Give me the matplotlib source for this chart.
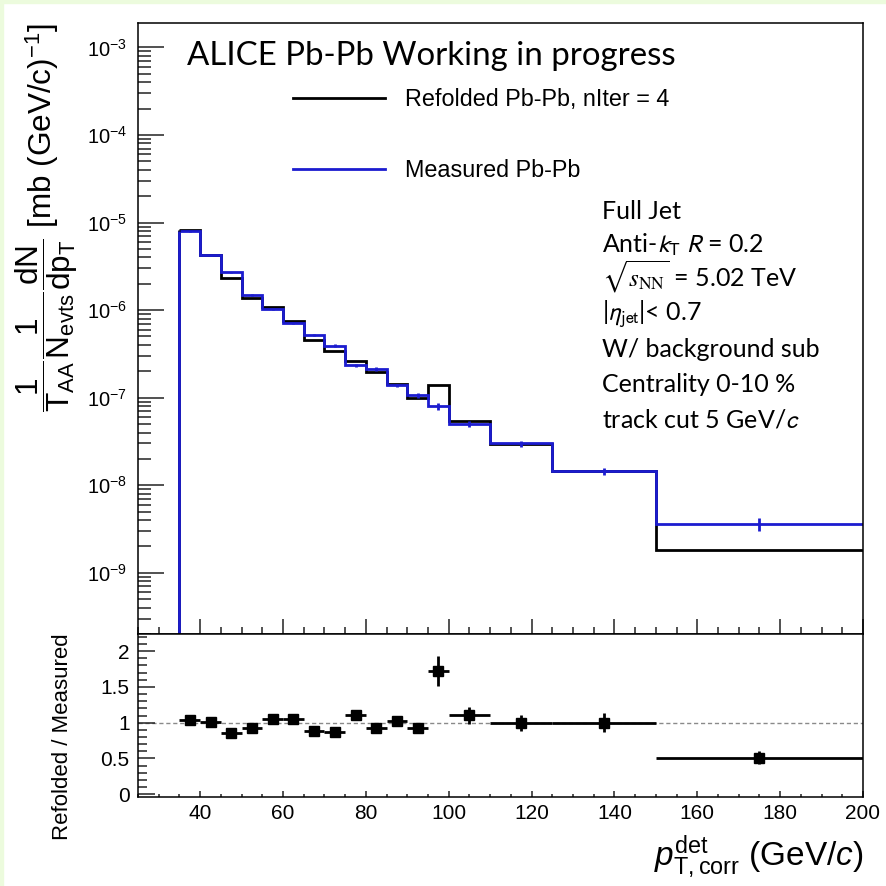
import numpy as np
import matplotlib
matplotlib.use("Agg")
import matplotlib.pyplot as plt
from matplotlib.patches import Rectangle
from matplotlib.lines import Line2D
from matplotlib.ticker import (LogLocator, FixedLocator, MultipleLocator, NullFormatter,
                               FuncFormatter)

# detector-level jet pT bins (GeV/c)
edges = [35, 40, 45, 50, 55, 60, 65, 70, 75, 80, 85, 90, 95, 100, 110, 125, 150, 200]

# per-event yields [mb (GeV/c)^-1]
measured = [7.96e-6, 4.25e-6, 2.70e-6, 1.49e-6, 1.03e-6, 7.20e-7, 5.15e-7, 3.93e-7,
            2.35e-7, 2.12e-7, 1.38e-7, 1.06e-7, 8.05e-8, 4.98e-8, 3.00e-8, 1.45e-8, 3.60e-9]
refolded = [8.28e-6, 4.29e-6, 2.32e-6, 1.37e-6, 1.08e-6, 7.56e-7, 4.58e-7, 3.42e-7,
            2.61e-7, 1.97e-7, 1.42e-7, 9.86e-8, 1.385e-7, 5.48e-8, 2.99e-8, 1.45e-8, 1.84e-9]
measured_relerr = [0.01, 0.012, 0.015, 0.018, 0.02, 0.025, 0.03, 0.035, 0.04, 0.045,
                   0.05, 0.06, 0.09, 0.08, 0.08, 0.09, 0.17]
ratio_err = [0.03, 0.03, 0.03, 0.03, 0.035, 0.035, 0.04, 0.04, 0.07, 0.05, 0.06, 0.065,
             0.21, 0.125, 0.11, 0.13, 0.09]

edges = np.array(edges, dtype=float)
measured = np.array(measured)
refolded = np.array(refolded)
centers = 0.5 * (edges[1:] + edges[:-1])
halfw = 0.5 * (edges[1:] - edges[:-1])
ratio = refolded / measured

plt.rcParams["font.family"] = ["Liberation Sans", "DejaVu Sans"]
plt.rcParams["mathtext.fontset"] = "custom"
plt.rcParams["mathtext.rm"] = "Liberation Sans"
plt.rcParams["mathtext.it"] = "Liberation Sans:italic"
plt.rcParams["mathtext.bf"] = "Liberation Sans:bold"
plt.rcParams["mathtext.sf"] = "Liberation Sans"

W, H = 887, 886
fig = plt.figure(figsize=(W / 100, H / 100), dpi=100)


def fx(px):
    return px / W


def fy(py):
    return 1 - py / H


blue = "#1c1ccf"
xmin, xmax = 25, 200
ymin, ymax = 2.0e-10, 1.9e-3

# slide background strips
fig.patches.append(Rectangle((0, fy(3)), 1, 3 / H, transform=fig.transFigure,
                             color="#ecfbdd", zorder=0))
fig.patches.append(Rectangle((0, 0), 3 / W, 1, transform=fig.transFigure,
                             color="#ecfbdd", zorder=0))

ax_l, ax_r = 138, 863
ax1 = fig.add_axes([fx(ax_l), fy(634), fx(ax_r) - fx(ax_l), fy(23) - fy(634)])
ax2 = fig.add_axes([fx(ax_l), fy(797), fx(ax_r) - fx(ax_l), fy(634) - fy(797)])

# spectra
ax1.stairs(refolded, edges, baseline=None, color="black", lw=2.0)
ax1.vlines(edges[0], ymin, refolded[0], color="black", lw=2.0)
ax1.stairs(measured, edges, baseline=None, color=blue, lw=2.0)
ax1.vlines(edges[0], ymin, measured[0], color=blue, lw=2.0)
ax1.errorbar(centers, measured, yerr=measured * np.array(measured_relerr), fmt="none",
             ecolor=blue, elinewidth=2.0, capsize=0)

ax1.set_yscale("log")
ax1.set_xlim(xmin, xmax)
ax1.set_ylim(ymin, ymax)
# only the decades inside the frame get a label
decades = 10.0 ** np.arange(np.ceil(np.log10(ymin)), np.floor(np.log10(ymax)) + 1)
ax1.yaxis.set_major_locator(FixedLocator(decades))
ax1.yaxis.set_minor_locator(LogLocator(base=10, subs=np.arange(2, 10), numticks=20))
ax1.yaxis.set_minor_formatter(NullFormatter())
ax1.xaxis.set_major_locator(MultipleLocator(20))
ax1.xaxis.set_minor_locator(MultipleLocator(5))
ax1.tick_params(axis="x", labelbottom=False)
ax1.tick_params(which="both", direction="in", top=False, right=False, width=1.1,
                colors="#222222")
ax1.tick_params(axis="y", which="major", length=19, labelsize=14.5, pad=8)
ax1.tick_params(axis="y", which="minor", length=9.5)
ax1.tick_params(axis="x", which="major", length=11)
ax1.tick_params(axis="x", which="minor", length=5)

# ratio panel
ax2.axhline(1, ls=(0, (3, 2)), color="#8a8a8a", lw=1.0, zorder=1)
ax2.errorbar(centers, ratio, xerr=halfw, yerr=ratio_err, fmt="s", color="black",
             ms=7, elinewidth=2.0, capsize=0, zorder=3)
ax2.set_xlim(xmin, xmax)
ax2.set_ylim(-0.04, 2.24)
ax2.yaxis.set_major_locator(MultipleLocator(0.5))
ax2.yaxis.set_minor_locator(MultipleLocator(0.1))
ax2.yaxis.set_major_formatter(FuncFormatter(lambda v, p: "%g" % v))
ax2.xaxis.set_major_locator(MultipleLocator(20))
ax2.xaxis.set_minor_locator(MultipleLocator(5))
ax2.tick_params(which="both", direction="in", top=False, right=False, width=1.1,
                colors="#222222", labelsize=15)
ax2.tick_params(axis="y", which="major", length=12.5, pad=6)
ax2.tick_params(axis="y", which="minor", length=6.5)
ax2.tick_params(axis="x", which="major", length=4, pad=5)
ax2.tick_params(axis="x", which="minor", length=2.5)

for ax in (ax1, ax2):
    for s in ax.spines.values():
        s.set_linewidth(1.1)
    for lab in ax.get_xticklabels() + ax.get_yticklabels():
        lab.set_color("black")

# axis titles
fig.text(fx(47), fy(218),
         r"$\dfrac{1}{\mathrm{T_{AA}}}\dfrac{1}{\mathrm{N_{evts}}}\dfrac{\mathrm{dN}}{\mathrm{dp_{T}}}$"
         r" [mb (GeV/c)$^{\mathrm{-1}}$]",
         rotation=90, ha="center", va="center", fontsize=22.7)
fig.text(fx(63), fy(737), "Refolded / Measured", rotation=90, ha="center",
         va="center", fontsize=16)
fig.text(fx(863), fy(866), r"$p_{\mathrm{T,corr}}^{\mathrm{det}}$ (GeV/$c$)",
         ha="right", va="baseline", fontsize=24)

# legend
handles = [Line2D([], [], color="black", lw=2.0), Line2D([], [], color=blue, lw=2.0)]
ax1.legend(handles, ["Refolded Pb-Pb, nIter = 4", "Measured Pb-Pb"],
           loc="upper left",
           bbox_to_anchor=((293 - ax_l) / (ax_r - ax_l), 1 - (88 - 23) / (634 - 23)),
           bbox_transform=ax1.transAxes, frameon=False, fontsize=16.8,
           handlelength=3.95, handletextpad=0.85, labelspacing=2.05, borderpad=0,
           borderaxespad=0)

# labels on the plot
fig.text(fx(187), fy(65), "ALICE Pb-Pb Working in progress", family="Lato",
         fontsize=23.8, va="baseline")

info = [
    ("Full Jet", "stixsans"),
    (r"Anti-$k_{\mathrm{T}}$ $R$ = 0.2", "stixsans"),
    (r"$\sqrt{s_{\mathrm{NN}}}$ = 5.02 TeV", "stix"),
    (r"|$\eta_{\mathrm{jet}}$|< 0.7", "stixsans"),
    ("W/ background sub", "stixsans"),
    ("Centrality 0-10 %", "stixsans"),
    (r"track cut 5 GeV/$c$", "stixsans"),
]
baselines = [219, 253, 287, 321, 357, 392, 427]
for (txt, mfam), yb in zip(info, baselines):
    fig.text(fx(602), fy(yb), txt, family="Lato", fontsize=18, va="baseline",
             math_fontfamily=mfam)

fig.savefig("out.png", dpi=100, facecolor="white")
